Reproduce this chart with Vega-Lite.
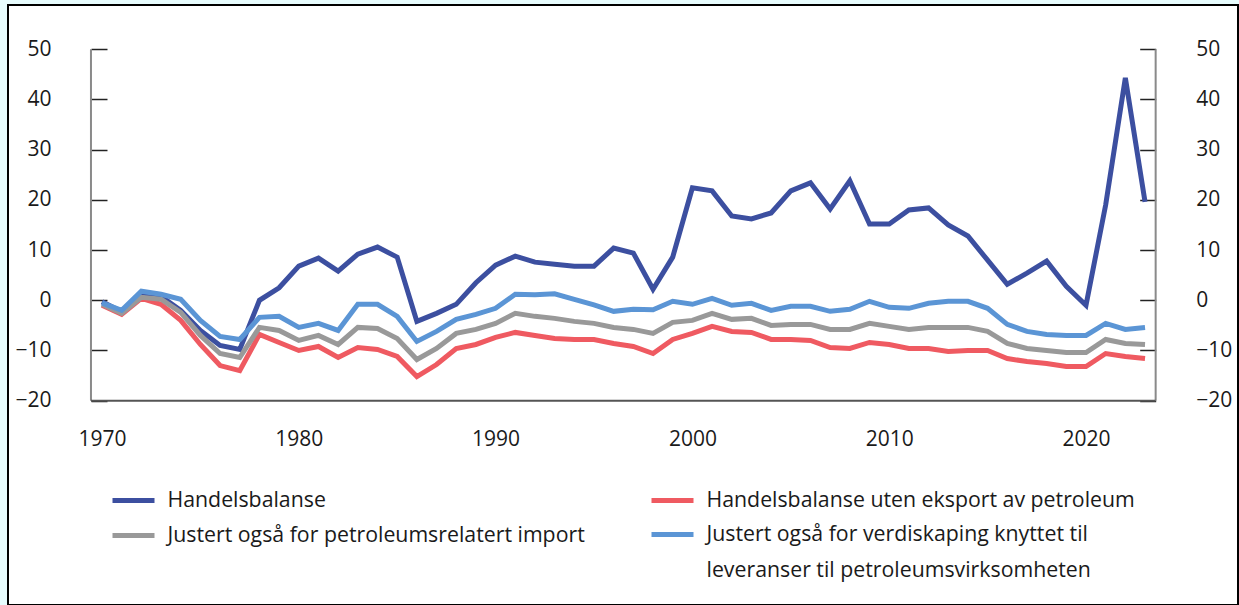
{
  "$schema": "https://vega.github.io/schema/vega-lite/v6.json",
  "width": 1230,
  "height": 600,
  "autosize": {"type": "none"},
  "padding": {"left": 8, "top": 5, "right": 1, "bottom": 0},
  "background": "#e7fcfd",
  "config": {
    "view": {"fill": "white", "stroke": "black", "strokeWidth": 2},
    "font": "Open Sans",
    "style": {"guide-label": {"lineHeight": 36}}
  },
  "datasets": {
    "trade": [
      {"year": 1970, "Handelsbalanse": -0.3, "Handelsbalanse uten eksport av petroleum": -1.0, "Justert også for petroleumsrelatert import": -0.8, "Justert også for verdiskaping knyttet til leveranser til petroleumsvirksomheten": -0.5},
      {"year": 1971, "Handelsbalanse": -2.3, "Handelsbalanse uten eksport av petroleum": -2.8, "Justert også for petroleumsrelatert import": -2.6, "Justert også for verdiskaping knyttet til leveranser til petroleumsvirksomheten": -2.0},
      {"year": 1972, "Handelsbalanse": 1.5, "Handelsbalanse uten eksport av petroleum": 0.4, "Justert også for petroleumsrelatert import": 0.6, "Justert også for verdiskaping knyttet til leveranser til petroleumsvirksomheten": 1.8},
      {"year": 1973, "Handelsbalanse": 0.8, "Handelsbalanse uten eksport av petroleum": -0.8, "Justert også for petroleumsrelatert import": 0.2, "Justert også for verdiskaping knyttet til leveranser til petroleumsvirksomheten": 1.2},
      {"year": 1974, "Handelsbalanse": -2.0, "Handelsbalanse uten eksport av petroleum": -4.0, "Justert også for petroleumsrelatert import": -2.4, "Justert også for verdiskaping knyttet til leveranser til petroleumsvirksomheten": 0.2},
      {"year": 1975, "Handelsbalanse": -6.0, "Handelsbalanse uten eksport av petroleum": -8.8, "Justert også for petroleumsrelatert import": -7.0, "Justert også for verdiskaping knyttet til leveranser til petroleumsvirksomheten": -4.0},
      {"year": 1976, "Handelsbalanse": -9.0, "Handelsbalanse uten eksport av petroleum": -13.0, "Justert også for petroleumsrelatert import": -10.6, "Justert også for verdiskaping knyttet til leveranser til petroleumsvirksomheten": -7.2},
      {"year": 1977, "Handelsbalanse": -9.8, "Handelsbalanse uten eksport av petroleum": -14.0, "Justert også for petroleumsrelatert import": -11.4, "Justert også for verdiskaping knyttet til leveranser til petroleumsvirksomheten": -7.8},
      {"year": 1978, "Handelsbalanse": 0.0, "Handelsbalanse uten eksport av petroleum": -6.8, "Justert også for petroleumsrelatert import": -5.4, "Justert også for verdiskaping knyttet til leveranser til petroleumsvirksomheten": -3.4},
      {"year": 1979, "Handelsbalanse": 2.5, "Handelsbalanse uten eksport av petroleum": -8.4, "Justert også for petroleumsrelatert import": -6.0, "Justert også for verdiskaping knyttet til leveranser til petroleumsvirksomheten": -3.2},
      {"year": 1980, "Handelsbalanse": 6.8, "Handelsbalanse uten eksport av petroleum": -10.0, "Justert også for petroleumsrelatert import": -8.0, "Justert også for verdiskaping knyttet til leveranser til petroleumsvirksomheten": -5.4},
      {"year": 1981, "Handelsbalanse": 8.4, "Handelsbalanse uten eksport av petroleum": -9.2, "Justert også for petroleumsrelatert import": -7.0, "Justert også for verdiskaping knyttet til leveranser til petroleumsvirksomheten": -4.6},
      {"year": 1982, "Handelsbalanse": 5.8, "Handelsbalanse uten eksport av petroleum": -11.4, "Justert også for petroleumsrelatert import": -8.8, "Justert også for verdiskaping knyttet til leveranser til petroleumsvirksomheten": -6.0},
      {"year": 1983, "Handelsbalanse": 9.2, "Handelsbalanse uten eksport av petroleum": -9.4, "Justert også for petroleumsrelatert import": -5.4, "Justert også for verdiskaping knyttet til leveranser til petroleumsvirksomheten": -0.8},
      {"year": 1984, "Handelsbalanse": 10.6, "Handelsbalanse uten eksport av petroleum": -9.8, "Justert også for petroleumsrelatert import": -5.6, "Justert også for verdiskaping knyttet til leveranser til petroleumsvirksomheten": -0.8},
      {"year": 1985, "Handelsbalanse": 8.6, "Handelsbalanse uten eksport av petroleum": -11.2, "Justert også for petroleumsrelatert import": -7.6, "Justert også for verdiskaping knyttet til leveranser til petroleumsvirksomheten": -3.2},
      {"year": 1986, "Handelsbalanse": -4.2, "Handelsbalanse uten eksport av petroleum": -15.2, "Justert også for petroleumsrelatert import": -11.8, "Justert også for verdiskaping knyttet til leveranser til petroleumsvirksomheten": -8.2},
      {"year": 1987, "Handelsbalanse": -2.6, "Handelsbalanse uten eksport av petroleum": -12.8, "Justert også for petroleumsrelatert import": -9.6, "Justert også for verdiskaping knyttet til leveranser til petroleumsvirksomheten": -6.2},
      {"year": 1988, "Handelsbalanse": -0.8, "Handelsbalanse uten eksport av petroleum": -9.6, "Justert også for petroleumsrelatert import": -6.6, "Justert også for verdiskaping knyttet til leveranser til petroleumsvirksomheten": -3.8},
      {"year": 1989, "Handelsbalanse": 3.5, "Handelsbalanse uten eksport av petroleum": -8.8, "Justert også for petroleumsrelatert import": -5.8, "Justert også for verdiskaping knyttet til leveranser til petroleumsvirksomheten": -2.8},
      {"year": 1990, "Handelsbalanse": 7.0, "Handelsbalanse uten eksport av petroleum": -7.4, "Justert også for petroleumsrelatert import": -4.6, "Justert også for verdiskaping knyttet til leveranser til petroleumsvirksomheten": -1.6},
      {"year": 1991, "Handelsbalanse": 8.8, "Handelsbalanse uten eksport av petroleum": -6.4, "Justert også for petroleumsrelatert import": -2.6, "Justert også for verdiskaping knyttet til leveranser til petroleumsvirksomheten": 1.2},
      {"year": 1992, "Handelsbalanse": 7.6, "Handelsbalanse uten eksport av petroleum": -7.0, "Justert også for petroleumsrelatert import": -3.2, "Justert også for verdiskaping knyttet til leveranser til petroleumsvirksomheten": 1.1},
      {"year": 1993, "Handelsbalanse": 7.2, "Handelsbalanse uten eksport av petroleum": -7.6, "Justert også for petroleumsrelatert import": -3.6, "Justert også for verdiskaping knyttet til leveranser til petroleumsvirksomheten": 1.3},
      {"year": 1994, "Handelsbalanse": 6.8, "Handelsbalanse uten eksport av petroleum": -7.8, "Justert også for petroleumsrelatert import": -4.2, "Justert også for verdiskaping knyttet til leveranser til petroleumsvirksomheten": 0.2},
      {"year": 1995, "Handelsbalanse": 6.8, "Handelsbalanse uten eksport av petroleum": -7.8, "Justert også for petroleumsrelatert import": -4.6, "Justert også for verdiskaping knyttet til leveranser til petroleumsvirksomheten": -0.9},
      {"year": 1996, "Handelsbalanse": 10.4, "Handelsbalanse uten eksport av petroleum": -8.6, "Justert også for petroleumsrelatert import": -5.4, "Justert også for verdiskaping knyttet til leveranser til petroleumsvirksomheten": -2.2},
      {"year": 1997, "Handelsbalanse": 9.4, "Handelsbalanse uten eksport av petroleum": -9.2, "Justert også for petroleumsrelatert import": -5.8, "Justert også for verdiskaping knyttet til leveranser til petroleumsvirksomheten": -1.8},
      {"year": 1998, "Handelsbalanse": 2.2, "Handelsbalanse uten eksport av petroleum": -10.6, "Justert også for petroleumsrelatert import": -6.6, "Justert også for verdiskaping knyttet til leveranser til petroleumsvirksomheten": -1.9},
      {"year": 1999, "Handelsbalanse": 8.6, "Handelsbalanse uten eksport av petroleum": -7.8, "Justert også for petroleumsrelatert import": -4.4, "Justert også for verdiskaping knyttet til leveranser til petroleumsvirksomheten": -0.2},
      {"year": 2000, "Handelsbalanse": 22.4, "Handelsbalanse uten eksport av petroleum": -6.6, "Justert også for petroleumsrelatert import": -4.0, "Justert også for verdiskaping knyttet til leveranser til petroleumsvirksomheten": -0.8},
      {"year": 2001, "Handelsbalanse": 21.8, "Handelsbalanse uten eksport av petroleum": -5.2, "Justert også for petroleumsrelatert import": -2.6, "Justert også for verdiskaping knyttet til leveranser til petroleumsvirksomheten": 0.4},
      {"year": 2002, "Handelsbalanse": 16.8, "Handelsbalanse uten eksport av petroleum": -6.2, "Justert også for petroleumsrelatert import": -3.8, "Justert også for verdiskaping knyttet til leveranser til petroleumsvirksomheten": -1.0},
      {"year": 2003, "Handelsbalanse": 16.2, "Handelsbalanse uten eksport av petroleum": -6.4, "Justert også for petroleumsrelatert import": -3.6, "Justert også for verdiskaping knyttet til leveranser til petroleumsvirksomheten": -0.6},
      {"year": 2004, "Handelsbalanse": 17.4, "Handelsbalanse uten eksport av petroleum": -7.8, "Justert også for petroleumsrelatert import": -5.0, "Justert også for verdiskaping knyttet til leveranser til petroleumsvirksomheten": -2.0},
      {"year": 2005, "Handelsbalanse": 21.8, "Handelsbalanse uten eksport av petroleum": -7.8, "Justert også for petroleumsrelatert import": -4.8, "Justert også for verdiskaping knyttet til leveranser til petroleumsvirksomheten": -1.2},
      {"year": 2006, "Handelsbalanse": 23.4, "Handelsbalanse uten eksport av petroleum": -8.0, "Justert også for petroleumsrelatert import": -4.8, "Justert også for verdiskaping knyttet til leveranser til petroleumsvirksomheten": -1.2},
      {"year": 2007, "Handelsbalanse": 18.2, "Handelsbalanse uten eksport av petroleum": -9.4, "Justert også for petroleumsrelatert import": -5.8, "Justert også for verdiskaping knyttet til leveranser til petroleumsvirksomheten": -2.2},
      {"year": 2008, "Handelsbalanse": 23.8, "Handelsbalanse uten eksport av petroleum": -9.6, "Justert også for petroleumsrelatert import": -5.8, "Justert også for verdiskaping knyttet til leveranser til petroleumsvirksomheten": -1.8},
      {"year": 2009, "Handelsbalanse": 15.2, "Handelsbalanse uten eksport av petroleum": -8.4, "Justert også for petroleumsrelatert import": -4.6, "Justert også for verdiskaping knyttet til leveranser til petroleumsvirksomheten": -0.2},
      {"year": 2010, "Handelsbalanse": 15.2, "Handelsbalanse uten eksport av petroleum": -8.8, "Justert også for petroleumsrelatert import": -5.2, "Justert også for verdiskaping knyttet til leveranser til petroleumsvirksomheten": -1.4},
      {"year": 2011, "Handelsbalanse": 18.0, "Handelsbalanse uten eksport av petroleum": -9.6, "Justert også for petroleumsrelatert import": -5.8, "Justert også for verdiskaping knyttet til leveranser til petroleumsvirksomheten": -1.6},
      {"year": 2012, "Handelsbalanse": 18.4, "Handelsbalanse uten eksport av petroleum": -9.6, "Justert også for petroleumsrelatert import": -5.4, "Justert også for verdiskaping knyttet til leveranser til petroleumsvirksomheten": -0.6},
      {"year": 2013, "Handelsbalanse": 15.0, "Handelsbalanse uten eksport av petroleum": -10.2, "Justert også for petroleumsrelatert import": -5.4, "Justert også for verdiskaping knyttet til leveranser til petroleumsvirksomheten": -0.2},
      {"year": 2014, "Handelsbalanse": 12.8, "Handelsbalanse uten eksport av petroleum": -10.0, "Justert også for petroleumsrelatert import": -5.4, "Justert også for verdiskaping knyttet til leveranser til petroleumsvirksomheten": -0.2},
      {"year": 2015, "Handelsbalanse": 8.0, "Handelsbalanse uten eksport av petroleum": -10.0, "Justert også for petroleumsrelatert import": -6.2, "Justert også for verdiskaping knyttet til leveranser til petroleumsvirksomheten": -1.6},
      {"year": 2016, "Handelsbalanse": 3.2, "Handelsbalanse uten eksport av petroleum": -11.6, "Justert også for petroleumsrelatert import": -8.6, "Justert også for verdiskaping knyttet til leveranser til petroleumsvirksomheten": -4.8},
      {"year": 2017, "Handelsbalanse": 5.4, "Handelsbalanse uten eksport av petroleum": -12.2, "Justert også for petroleumsrelatert import": -9.6, "Justert også for verdiskaping knyttet til leveranser til petroleumsvirksomheten": -6.2},
      {"year": 2018, "Handelsbalanse": 7.8, "Handelsbalanse uten eksport av petroleum": -12.6, "Justert også for petroleumsrelatert import": -10.0, "Justert også for verdiskaping knyttet til leveranser til petroleumsvirksomheten": -6.8},
      {"year": 2019, "Handelsbalanse": 2.8, "Handelsbalanse uten eksport av petroleum": -13.2, "Justert også for petroleumsrelatert import": -10.4, "Justert også for verdiskaping knyttet til leveranser til petroleumsvirksomheten": -7.0},
      {"year": 2020, "Handelsbalanse": -1.0, "Handelsbalanse uten eksport av petroleum": -13.2, "Justert også for petroleumsrelatert import": -10.4, "Justert også for verdiskaping knyttet til leveranser til petroleumsvirksomheten": -7.0},
      {"year": 2021, "Handelsbalanse": 19.0, "Handelsbalanse uten eksport av petroleum": -10.6, "Justert også for petroleumsrelatert import": -7.8, "Justert også for verdiskaping knyttet til leveranser til petroleumsvirksomheten": -4.6},
      {"year": 2022, "Handelsbalanse": 44.3, "Handelsbalanse uten eksport av petroleum": -11.2, "Justert også for petroleumsrelatert import": -8.6, "Justert også for verdiskaping knyttet til leveranser til petroleumsvirksomheten": -5.8},
      {"year": 2023, "Handelsbalanse": 19.6, "Handelsbalanse uten eksport av petroleum": -11.6, "Justert også for petroleumsrelatert import": -8.8, "Justert også for verdiskaping knyttet til leveranser til petroleumsvirksomheten": -5.4}
    ]
  },
  "resolve": {"axis": {"y": "independent"}},
  "layer": [
    {
      "data": {"name": "trade"},
      "transform": [
        {"fold": ["Handelsbalanse", "Handelsbalanse uten eksport av petroleum", "Justert også for petroleumsrelatert import", "Justert også for verdiskaping knyttet til leveranser til petroleumsvirksomheten"], "as": ["serie", "verdi"]}
      ],
      "mark": {"type": "line", "strokeWidth": 5},
      "encoding": {
        "x": {
          "field": "year", "type": "quantitative",
          "scale": {"domain": [1965.224, 2027.724], "nice": false, "zero": false},
          "axis": {"orient": "bottom", "offset": -204.3, "domain": false, "ticks": false, "grid": false, "title": null,
                   "values": [1970, 1980, 1990, 2000, 2010, 2020], "format": "d",
                   "labelFont": "Open Sans", "labelFontSize": 21, "labelColor": "#1a1a1a", "labelPadding": 28, "labelBaseline": "top"}
        },
        "y": {
          "field": "verdi", "type": "quantitative",
          "scale": {"domain": [-60.7, 58.825], "nice": false, "zero": false},
          "axis": {"orient": "left", "offset": -83, "domain": false, "grid": false, "title": null,
                   "values": [-20, -10, 0, 10, 20, 30, 40, 50],
                   "tickSize": -16, "tickColor": "#222222", "tickWidth": 1.5,
                   "labelFont": "Open Sans", "labelFontSize": 21, "labelColor": "#1a1a1a", "labelPadding": 56}
        },
        "color": {
          "field": "serie", "type": "nominal",
          "scale": {
            "domain": ["Handelsbalanse", "Handelsbalanse uten eksport av petroleum", "Justert også for petroleumsrelatert import", "Justert også for verdiskaping knyttet til leveranser til petroleumsvirksomheten"],
            "range": ["#3c4fa0", "#ef5a61", "#999999", "#5b95d5"]
          },
          "legend": {
            "orient": "none", "legendX": 102, "legendY": 472, "columns": 2, "direction": "horizontal", "title": null,
            "symbolType": "stroke", "symbolSize": 1764, "symbolStrokeWidth": 5,
            "labelFont": "Open Sans", "labelFontSize": 21.3, "labelColor": "#1a1a1a", "labelLimit": 700,
            "labelOffset": 10.5, "columnPadding": 56, "rowPadding": -13, "padding": 0,
            "labelExpr": "datum.label == 'Justert også for verdiskaping knyttet til leveranser til petroleumsvirksomheten' ? ['Justert også for verdiskaping knyttet til', 'leveranser til petroleumsvirksomheten'] : datum.label"
          }
        }
      }
    },
    {
      "data": {"values": [{}]},
      "mark": {"type": "rule", "color": "#8a8a8a", "strokeWidth": 2},
      "encoding": {
        "x": {"datum": 1969.44, "type": "quantitative", "scale": {"domain": [1965.224, 2027.724], "nice": false, "zero": false}},
        "y": {"datum": -20, "type": "quantitative", "scale": {"domain": [-60.7, 58.825], "nice": false, "zero": false},
              "axis": {"orient": "right", "offset": -82.3, "domain": false, "grid": false, "title": null,
                       "values": [-20, -10, 0, 10, 20, 30, 40, 50],
                       "tickSize": -16, "tickColor": "#222222", "tickWidth": 1.5,
                       "labelFont": "Open Sans", "labelFontSize": 21, "labelColor": "#1a1a1a", "labelPadding": 56}},
        "y2": {"datum": 50}
      }
    },
    {
      "data": {"values": [{}]},
      "mark": {"type": "rule", "color": "#8a8a8a", "strokeWidth": 2},
      "encoding": {
        "x": {"datum": 2023.54, "type": "quantitative"},
        "y": {"datum": -20, "type": "quantitative", "axis": null},
        "y2": {"datum": 50}
      }
    },
    {
      "data": {"values": [{}]},
      "mark": {"type": "rule", "color": "#555555", "strokeWidth": 2},
      "encoding": {
        "x": {"datum": 1969.44, "type": "quantitative"},
        "x2": {"datum": 2023.54},
        "y": {"datum": -20, "type": "quantitative", "axis": null}
      }
    }
  ]
}
